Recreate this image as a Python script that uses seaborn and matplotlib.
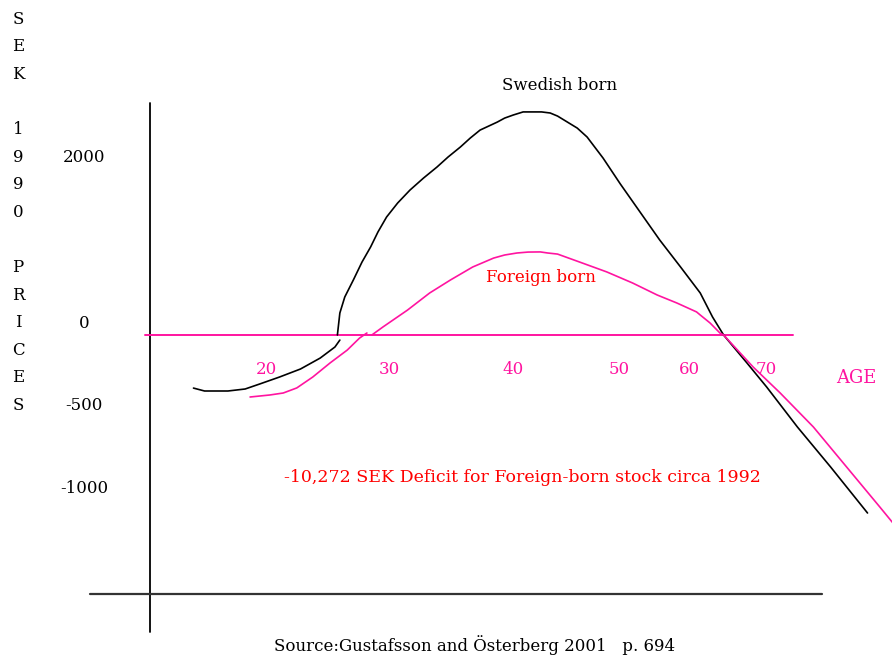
import matplotlib
matplotlib.use("Agg")
import matplotlib.pyplot as plt
import seaborn as sns
import pandas as pd

# Schematic net-contribution curves (age in years, SEK 1990 prices)
swedish_young_age = [14.1, 15.0, 16.9, 18.3, 19.5, 21.1, 22.8, 24.4, 25.6, 26.0]
swedish_young_sek = [-345, -364, -364, -351, -318, -273, -221, -150, -78, -33]

swedish_age = [25.8, 26.0, 26.4, 27.1, 27.8, 28.5, 29.1, 29.8, 30.7, 31.7, 32.8, 33.9,
               34.8, 35.8, 36.6, 37.4, 38.1, 38.8, 39.4, 40.1, 40.9, 41.7, 42.4, 43.1,
               43.7, 44.5, 45.3, 46.1, 47.4, 48.8, 50.4, 52.0, 53.7, 55.3, 56.3, 57.2,
               59.1, 60.7, 63.2, 65.9, 68.9]
swedish_sek = [0, 143, 247, 358, 474, 572, 670, 767, 858, 942, 1020, 1092,
               1157, 1222, 1280, 1332, 1358, 1384, 1410, 1430, 1450, 1450, 1450, 1443,
               1423, 1384, 1345, 1287, 1150, 982, 800, 618, 442, 273, 117, 0,
               -182, -338, -598, -858, -1157]

foreign_young_age = [18.7, 20.3, 21.4, 22.5, 23.8, 25.2, 26.6, 27.6, 28.2]
foreign_young_sek = [-403, -390, -377, -344, -273, -182, -98, -20, 13]

foreign_age = [28.6, 29.5, 31.5, 33.3, 35.0, 36.8, 38.5, 39.4, 40.4, 41.3, 42.3, 42.9,
               43.7, 45.5, 47.7, 49.8, 51.8, 53.4, 55.0, 55.3, 56.1, 56.9, 57.2, 59.6,
               61.8, 64.5, 67.2, 69.9, 71.1]
foreign_sek = [0, 52, 162, 273, 358, 442, 500, 520, 533, 539, 540, 533,
               526, 474, 410, 338, 260, 208, 150, 130, 78, 13, 0, -208,
               -377, -598, -858, -1118, -1235]

age_labels = ["20", "30", "40", "50", "60", "70"]
age_label_pos = [20, 30, 40.1, 48.7, 54.4, 60.7]
sek_labels = ["2000", "0", "-500", "-1000"]
sek_label_pos = [1157, 78, -455, -995]
side_letters = list("SEK") + [""] + list("1990") + [""] + list("PRICES")

PINK = "#ff14a0"
RED = "#ff0000"

segments = [
    ("Swedish born", "sw_young", swedish_young_age, swedish_young_sek),
    ("Swedish born", "sw_main", swedish_age, swedish_sek),
    ("Foreign born", "fo_young", foreign_young_age, foreign_young_sek),
    ("Foreign born", "fo_main", foreign_age, foreign_sek),
]
rows = []
for group, seg, xs, ys in segments:
    for x, y in zip(xs, ys):
        rows.append({"group": group, "segment": seg, "age": x, "sek": y})
df = pd.DataFrame(rows)

sns.set_style("white")
plt.rcParams["font.family"] = ["DejaVu Serif"]
plt.rcParams["text.color"] = "black"

fig = plt.figure(figsize=(8.92, 6.55), dpi=100)
ax = fig.add_axes([0, 0, 1, 1])
ax.set_xlim(-1.63, 70.89)
ax.set_ylim(-2080, 2177.5)
ax.axis("off")

# drawn axes
ax.axvline(10.57, ymin=0.035, ymax=0.843, color="black", lw=1.3)
ax.axhline(-1683.5, xmin=0.101, xmax=0.9215, color="#333333", lw=1.6)
ax.axhline(0, xmin=0.1626, xmax=0.889, color=PINK, lw=1.4)

sns.lineplot(data=df, x="age", y="sek", hue="group", units="segment",
             estimator=None, sort=False, legend=False, ax=ax,
             palette={"Swedish born": "black", "Foreign born": PINK}, lw=1.2)

for lab, pos in zip(age_labels, age_label_pos):
    ax.text(pos, -227, lab, color=PINK, fontsize=12, ha="center", va="center")
for lab, pos in zip(sek_labels, sek_label_pos):
    ax.text(5.2, pos, lab, color="black", fontsize=12, ha="center", va="center")

for i, ch in enumerate(side_letters):
    fig.text(18 / 892, 1 - (19 + 27.6 * i) / 655, ch, fontsize=12,
             ha="center", va="center")

fig.text(560 / 892, 1 - 86 / 655, "Swedish born", fontsize=12, ha="center", va="center")
fig.text(541 / 892, 1 - 277 / 655, "Foreign born", fontsize=12, color=RED,
         ha="center", va="center")
fig.text(856 / 892, 1 - 378 / 655, "AGE", fontsize=13, color=PINK,
         ha="center", va="center")
fig.text(522 / 892, 1 - 478 / 655,
         "-10,272 SEK Deficit for Foreign-born stock circa 1992",
         fontsize=12.5, color=RED, ha="center", va="center")
fig.text(475 / 892, 1 - 645 / 655, "Source:Gustafsson and \u00d6sterberg 2001   p. 694",
         fontsize=12, ha="center", va="center")

fig.savefig("out.png", dpi=100)
